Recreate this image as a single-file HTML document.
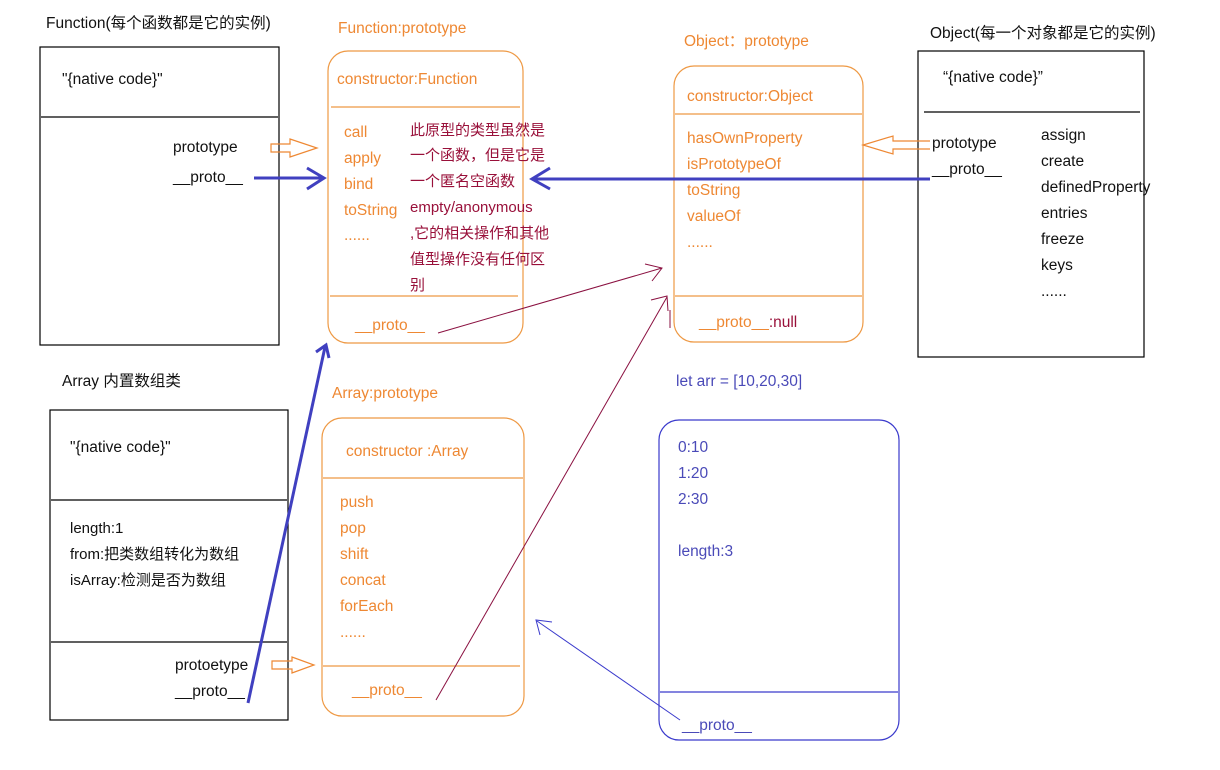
<!DOCTYPE html>
<html><head><meta charset="utf-8"><style>
body{margin:0;background:#fff;}
svg{display:block;font-family:"Liberation Sans","Noto Sans CJK SC",sans-serif;font-size:15.5px;}
.o{fill:#ee8833}.r{fill:#99103a}.k{fill:#111}.b{fill:#4a4ab8}
</style></head><body>
<svg width="1220" height="770" viewBox="0 0 1220 770">
<g fill="none" stroke-width="1.2">
<rect x="40" y="47" width="239" height="298" stroke="#000"/>
<line x1="41" y1="117" x2="278" y2="117" stroke="#000"/>
<rect x="328" y="51" width="195" height="292" rx="20" stroke="#ee9944"/>
<line x1="331" y1="107" x2="520" y2="107" stroke="#ee9944"/>
<line x1="330" y1="296" x2="518" y2="296" stroke="#ee9944"/>
<rect x="674" y="66" width="189" height="276" rx="20" stroke="#ee9944"/>
<line x1="675" y1="114" x2="862" y2="114" stroke="#ee9944"/>
<line x1="675" y1="296" x2="862" y2="296" stroke="#ee9944"/>
<rect x="918" y="51" width="226" height="306" stroke="#000"/>
<line x1="924" y1="112" x2="1140" y2="112" stroke="#000"/>
<rect x="50" y="410" width="238" height="310" stroke="#000"/>
<line x1="51" y1="500" x2="287" y2="500" stroke="#000"/>
<line x1="51" y1="642" x2="287" y2="642" stroke="#000"/>
<rect x="322" y="418" width="202" height="298" rx="20" stroke="#ee9944"/>
<line x1="323" y1="478" x2="523" y2="478" stroke="#ee9944"/>
<line x1="323" y1="666" x2="520" y2="666" stroke="#ee9944"/>
<rect x="659" y="420" width="240" height="320" rx="20" stroke="#3a3acc"/>
<line x1="660" y1="692" x2="898" y2="692" stroke="#3a3acc"/>
<path d="M271,144 H290 V139 L317,148 L290,157 V152 H271 Z" stroke="#ee8833"/>
<path d="M930,141 H893 V136 L863,145 L893,154 V149 H930" stroke="#ee8833"/>
<path d="M272,661 H292 V657 L314,665 L292,673 V669 H272 Z" stroke="#ee8833"/>
<g stroke="#4040c0" stroke-width="3">
<line x1="254" y1="178" x2="323" y2="178"/><path d="M307,168 L324,178 L307,189"/>
<line x1="930" y1="179" x2="532" y2="179"/><path d="M550,168 L532,179 L550,189"/>
<line x1="248" y1="703" x2="325" y2="347"/><path d="M316,352 L326,345 L329,358"/>
</g>
<g stroke="#8a1040" stroke-width="1">
<line x1="438" y1="333" x2="662" y2="268"/><path d="M645,264 L662,268 L652,281"/>
<line x1="436" y1="700" x2="667" y2="297"/><path d="M651,300 L667,296 L668,311"/>
<line x1="670" y1="310" x2="670" y2="328"/>
</g>
<g stroke="#3a3acc" stroke-width="1">
<line x1="680" y1="720" x2="537" y2="621"/><path d="M540,635 L536,620 L552,622"/>
</g>
</g>
<text x="46" y="28" class="k">Function(每个函数都是它的实例)</text>
<text x="62" y="84" class="k">"{native  code}"</text>
<text x="173" y="152" class="k">prototype</text>
<text x="173" y="182" class="k">__proto__</text>
<text x="338" y="33" class="o">Function:prototype</text>
<text x="337" y="84" class="o">constructor:Function</text>
<text class="o" x="344" y="137">call</text>
<text class="o" x="344" y="163">apply</text>
<text class="o" x="344" y="189">bind</text>
<text class="o" x="344" y="215">toString</text>
<text class="o" x="344" y="240">......</text>
<g class="r" font-size="15"><text x="410" y="135">此原型的类型虽然是</text><text x="410" y="160">一个函数，但是它是</text><text x="410" y="186">一个匿名空函数</text><text x="410" y="212">empty/anonymous</text><text x="410" y="238">,它的相关操作和其他</text><text x="410" y="264">值型操作没有任何区</text><text x="410" y="290">别</text></g>
<text class="o" x="355" y="330">__proto__</text>
<text class="o" x="684" y="46">Object：prototype</text>
<text class="o" x="687" y="101">constructor:Object</text>
<text class="o" x="687" y="143">hasOwnProperty</text>
<text class="o" x="687" y="169">isPrototypeOf</text>
<text class="o" x="687" y="195">toString</text>
<text class="o" x="687" y="221">valueOf</text>
<text class="o" x="687" y="247">......</text>
<text x="699" y="327"><tspan class="o">__proto__</tspan><tspan class="r">:null</tspan></text>
<text class="k" x="930" y="38">Object(每一个对象都是它的实例)</text>
<text class="k" x="943" y="82">“{native code}”</text>
<text class="k" x="932" y="148">prototype</text>
<text class="k" x="932" y="174">__proto__</text>
<g class="k"><text x="1041" y="140">assign</text><text x="1041" y="166">create</text><text x="1041" y="192">definedProperty</text><text x="1041" y="218">entries</text><text x="1041" y="244">freeze</text><text x="1041" y="270">keys</text><text x="1041" y="296">......</text></g>
<text class="k" x="62" y="386">Array  内置数组类</text>
<text class="k" x="70" y="452">"{native  code}"</text>
<g class="k" font-size="15"><text x="70" y="533">length:1</text><text x="70" y="559">from:把类数组转化为数组</text><text x="70" y="585">isArray:检测是否为数组</text></g>
<text class="k" x="175" y="670">protoetype</text>
<text class="k" x="175" y="696">__proto__</text>
<text class="o" x="332" y="398">Array:prototype</text>
<text class="o" x="346" y="456">constructor  :Array</text>
<g class="o"><text x="340" y="507">push</text><text x="340" y="533">pop</text><text x="340" y="559">shift</text><text x="340" y="585">concat</text><text x="340" y="611">forEach</text><text x="340" y="637">......</text></g>
<text class="o" x="352" y="695">__proto__</text>
<text class="b" x="676" y="386">let arr = [10,20,30]</text>
<g class="b"><text x="678" y="452">0:10</text><text x="678" y="478">1:20</text><text x="678" y="504">2:30</text><text x="678" y="556">length:3</text><text x="682" y="730">__proto__</text></g>
</svg>
</body></html>
